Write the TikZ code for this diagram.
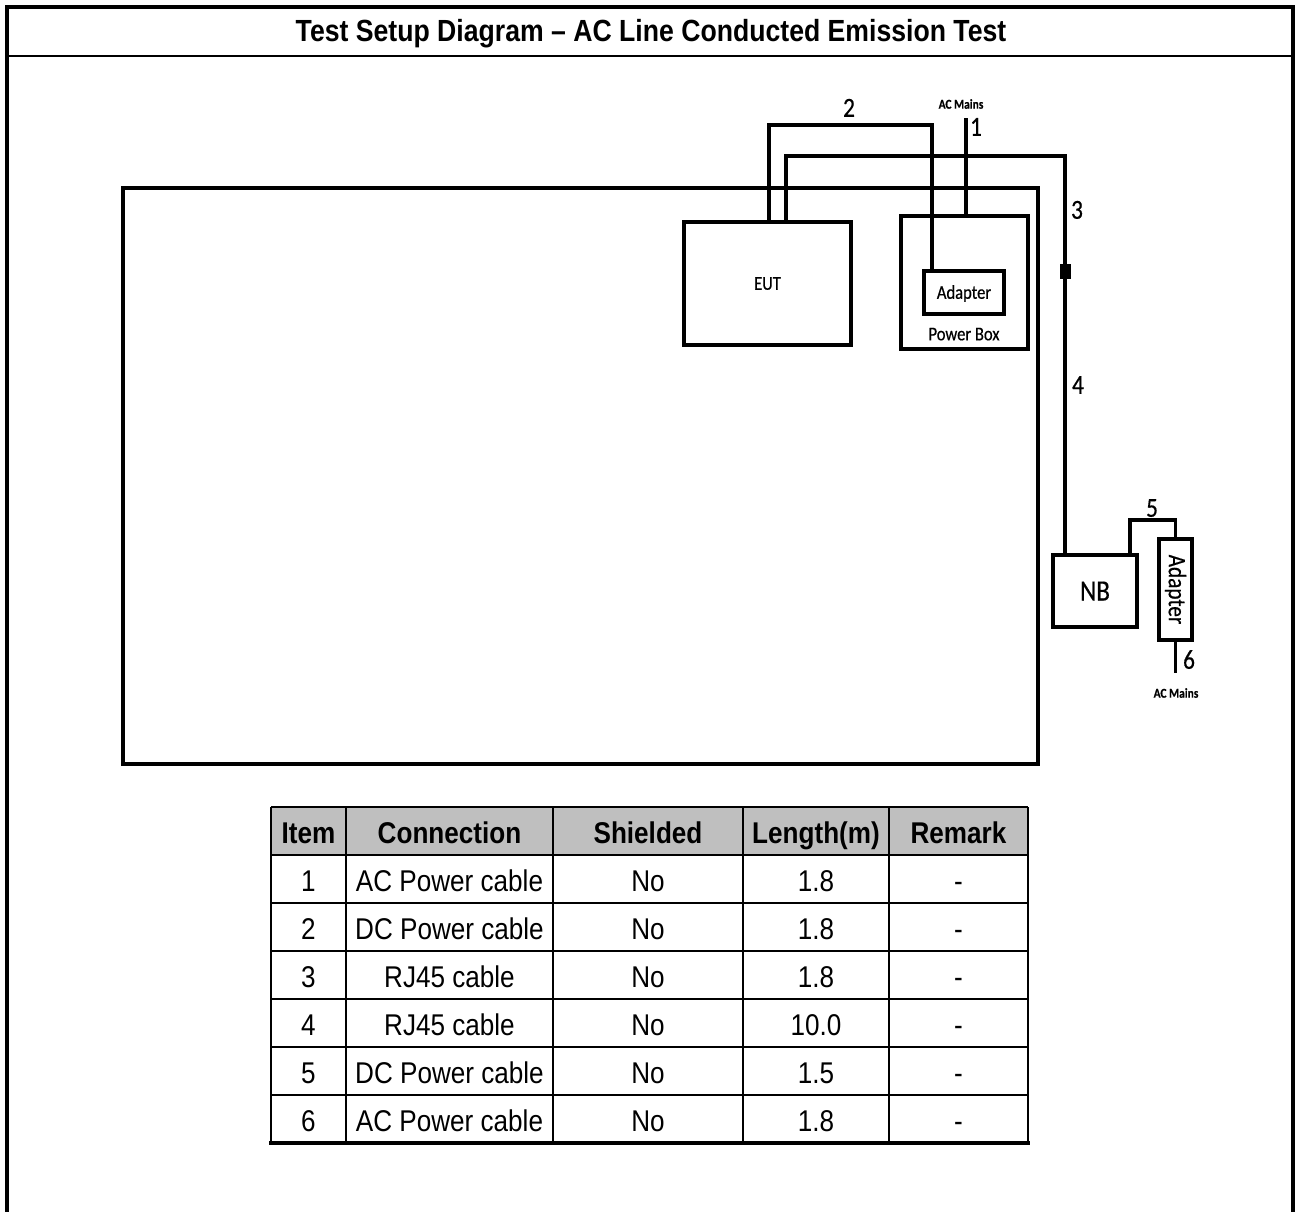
\documentclass[tikz,border=0pt]{standalone}
\usepackage{fontspec}
\setmainfont{Liberation Sans}
\newfontfamily\tabfont[FakeStretch=0.87]{Liberation Sans}
\newfontfamily\diafont[FakeStretch=0.85, FakeBold=0.5]{Carlito}

\usetikzlibrary{positioning, calc}

\begin{document}
\begin{tikzpicture}[
			x=1pt, y=-1pt,
			frame/.style={line width=4pt, line cap=rect},
			devbox/.style={
				draw=black, line width=3.8pt, inner sep=0pt, align=center,
				text height=12.5pt, text depth=0pt,
				font=\diafont\fontsize{19.5}{21}\selectfont
			},
			cable/.style={line width=3.6pt},
			cablenum/.style={inner sep=0pt, text height=17.5pt, text depth=0pt, font=\diafont\fontsize{27.5}{29}\selectfont},
			mains/.style={inner sep=0pt, font=\diafont\bfseries\fontsize{13.5}{14}\selectfont},
			tabline/.style={line width=2pt},
			tabtext/.style={inner sep=0pt, text height=21.5pt, text depth=0pt, font=\tabfont\fontsize{30}{32}\selectfont},
			tabhead/.style={tabtext, font=\tabfont\bfseries\fontsize{30}{32}\selectfont}
			]
			\useasboundingbox (0,0) rectangle (1295,1211);
			
			% 1. PAGE FRAME & TITLE
			\draw[frame] (7,1211) -- (7,7) -- (1293,7) -- (1293,1211);
			\draw[line width=2.5pt] (7,56) -- (1293,56);
			\node[tabhead, font=\tabfont\bfseries\fontsize{30.6}{32}\selectfont] (title) at (651,31) {Test Setup Diagram – AC Line Conducted Emission Test};
			
			% 2. TABLE TOP & DEVICES
			\node[draw, line width=4.5pt, minimum width=915pt, minimum height=576pt] (bench) at (580.5,476) {};
			\node[devbox, minimum width=167pt, minimum height=123pt] (eut) at (767.5,283.5) {EUT};
			\node[devbox, minimum width=127pt, minimum height=133pt] (pbox) at (964.5,282.5) {};
			\node[devbox, minimum width=80pt, minimum height=43pt] (adp) at (964,292.5) {Adapter};
			\node[devbox, draw=none, below=10pt of adp] (pboxlabel) {Power Box};
			\node[draw, fill=black, line width=0.5pt, minimum width=10pt, minimum height=14pt, inner sep=0pt] (ferrite) at (1065,271) {};
			\node[devbox, minimum width=84pt, minimum height=72pt, text height=19pt, font=\diafont\fontsize{29.5}{31}\selectfont] (nb) at (1095,591) {NB};
			\node[devbox, minimum width=33pt, minimum height=101pt] (adp2) at (1175.5,589.5) {};
			\node[inner sep=0pt, rotate=-90, font=\diafont\fontsize{25}{27}\selectfont] (adp2label) at (adp2) {Adapter};
			
			% 3. CABLES
			\coordinate (ac1) at (966,118);
			\coordinate (c2top) at (850,125);
			\coordinate (c3top) at (900,156);
			\coordinate (c5top) at (1150,520);
			\coordinate (ac6) at (1175.5,673);
			\draw[cable] (ac1) -- (ac1 |- pbox.north);
			\draw[cable] ([xshift=1.5pt]eut.north) |- (c2top) -| ([xshift=-32pt]adp.north);
			\draw[cable] ([xshift=18.5pt]eut.north) |- (c3top) -| (ferrite.north);
			\draw[cable] (ferrite.south) -- ([xshift=-30pt]nb.north);
			\draw[cable] ([xshift=35pt]nb.north) |- (c5top) -| (adp2.north);
			\draw[cable] (adp2.south) -- (ac6);
			
			\node[mains] (mains1) at (961,104) {AC Mains};
			\node[mains] (mains6) at (1176,693) {AC Mains};
			\node[cablenum] (n1) at (976,127) {1};
			\node[cablenum] (n2) at (849,108) {2};
			\node[cablenum] (n3) at (1077,210) {3};
			\node[cablenum] (n4) at (1078,385) {4};
			\node[cablenum] (n5) at (1152,508) {5};
			\node[cablenum] (n6) at (1189,660) {6};
			
			% 4. CABLE TABLE
			\fill[gray!50] (271,807) rectangle (1028,855);
			\foreach \x in {271,346,553,743,889,1028}
				\draw[tabline] (\x,807) -- (\x,1143);
			\foreach \y in {807,855,903,951,999,1047,1095}
				\draw[tabline] (271,\y) -- (1028,\y);
			\draw[line width=3.5pt] (269,1143) -- (1030,1143);
			
			\node[tabhead] (hitem) at (308.5,833) {Item};
			\node[tabhead] (hconn) at (449.5,833) {Connection};
			\node[tabhead] (hshield) at (648,833) {Shielded};
			\node[tabhead] (hlen) at (816,833) {Length(m)};
			\node[tabhead] (hrem) at (958.5,833) {Remark};
			\foreach \conn/\len [count=\r] in {AC Power cable/1.8, DC Power cable/1.8, RJ45 cable/1.8,
				RJ45 cable/10.0, DC Power cable/1.5, AC Power cable/1.8} {
				\node[tabtext] (item\r) at (308.5,{833+48*\r}) {\r};
				\node[tabtext] (conn\r) at (449.5,{833+48*\r}) {\conn};
				\node[tabtext] (shield\r) at (648,{833+48*\r}) {No};
				\node[tabtext] (len\r) at (816,{833+48*\r}) {\len};
				\node[tabtext] (rem\r) at (958.5,{833+48*\r}) {-};
			}
		\end{tikzpicture}
\end{document}
